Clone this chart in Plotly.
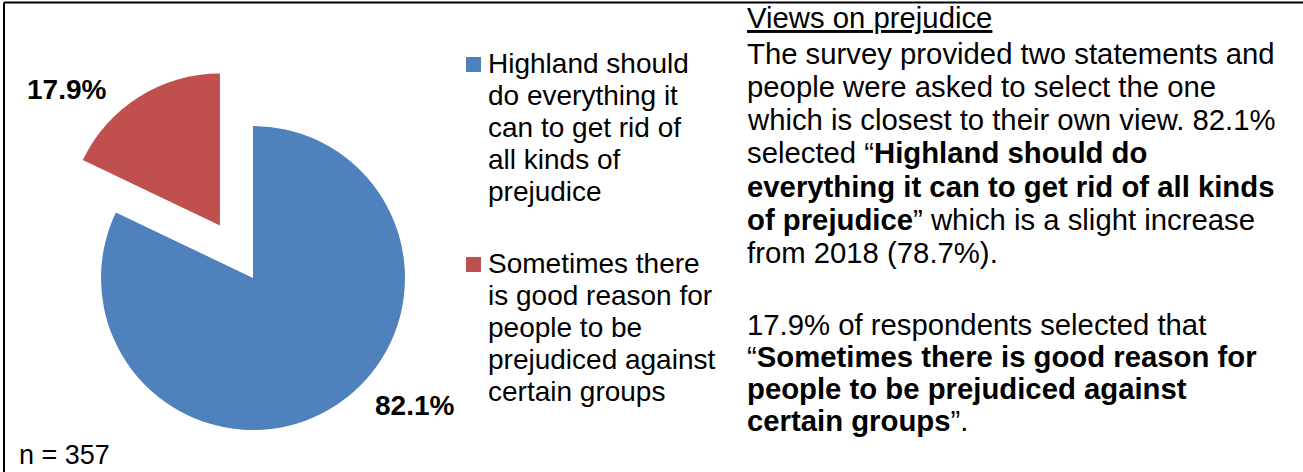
import math
import plotly.graph_objects as go

W, H = 1303, 472
FONT = "Liberation Sans, Arial, sans-serif"
FS_LEGEND = 28
FS_BODY = 29.3

# Survey responses
categories = [
    "Highland should do everything it can to get rid of all kinds of prejudice",
    "Sometimes there is good reason for people to be prejudiced against certain groups",
]
shares = [82.1, 17.9]
colors = ["#4F81BD", "#C0504D"]
legend_lines = [
    ["Highland should", "do everything it", "can to get rid of", "all kinds of", "prejudice"],
    ["Sometimes there", "is good reason for", "people to be", "prejudiced against", "certain groups"],
]
sample_size = 357
share_2018 = 78.7

CLEAR = "rgba(0,0,0,0)"


def px(x):
    return x / W


def py(y):
    return 1 - y / H


def domain(cx, cy, r):
    return dict(x=[px(cx - r), px(cx + r)], y=[py(cy + r), py(cy - r)])


# pie geometry (pixels)
CX, CY, R = 253, 278, 152
PULL = 62  # exploded distance of the second slice
mid = 2 * math.pi * (shares[0] + shares[1] / 2) / sum(shares)
ex_cx = CX + PULL * math.sin(mid)
ex_cy = CY - PULL * math.cos(mid)

fig = go.Figure()
fig.add_trace(go.Pie(
    labels=categories, values=shares, sort=False, direction="clockwise",
    rotation=0, marker=dict(colors=[colors[0], CLEAR], line=dict(width=0)),
    textinfo="none", hoverinfo="label+percent", showlegend=False,
    domain=domain(CX, CY, R),
))
fig.add_trace(go.Pie(
    labels=categories, values=shares, sort=False, direction="clockwise",
    rotation=0, marker=dict(colors=[CLEAR, colors[1]], line=dict(width=0)),
    textinfo="none", hoverinfo="label+percent", showlegend=False,
    domain=domain(ex_cx, ex_cy, R),
))

ann = []
shapes = []


def text(x, baseline, s, size, xanchor="left"):
    ann.append(dict(
        x=px(x), y=py(baseline - 0.3465 * size), xref="paper", yref="paper",
        text=s, showarrow=False, xanchor=xanchor, yanchor="middle",
        font=dict(family=FONT, size=size, color="#000000"), borderpad=0,
    ))


# slice value labels
text(66, 99, f"<b>{shares[1]:.1f}%</b>", FS_LEGEND, xanchor="center")
text(414, 415, f"<b>{shares[0]:.1f}%</b>", FS_LEGEND, xanchor="center")
text(18, 464, f"n = {sample_size}", 27)

# legend
legend_tops = [57, 257]
for i, lines in enumerate(legend_lines):
    t = legend_tops[i]
    shapes.append(dict(type="rect", xref="paper", yref="paper",
                       x0=px(466), x1=px(481), y0=py(t + 15), y1=py(t),
                       fillcolor=colors[i], line=dict(width=0)))
    for k, ln in enumerate(lines):
        text(487, t + 16 + 32 * k, ln, FS_LEGEND)

# commentary
body = [
    (28, "<u>Views on prejudice</u>"),
    (64, "The survey provided two statements and"),
    (97, "people were asked to select the one"),
    (130, f"which is closest to their own view. {shares[0]:.1f}%"),
    (163, "selected \u201c<b>Highland should do</b>"),
    (197, "<b>everything it can to get rid of all kinds</b>"),
    (230, "<b>of prejudice</b>\u201d which is a slight increase"),
    (263, f"from 2018 ({share_2018:.1f}%)."),
    (335, f"{shares[1]:.1f}% of respondents selected that"),
    (367, "\u201c<b>Sometimes there is good reason for</b>"),
    (399, "<b>people to be prejudiced against</b>"),
    (431, "<b>certain groups</b>\u201d."),
]
for b, s in body:
    text(746, b, s, FS_BODY)

# frame
shapes.append(dict(type="line", xref="paper", yref="paper",
                   x0=px(4), x1=px(W), y0=py(2.5), y1=py(2.5),
                   line=dict(color="#000000", width=2)))
shapes.append(dict(type="line", xref="paper", yref="paper",
                   x0=px(4), x1=px(4), y0=py(2.5), y1=py(H),
                   line=dict(color="#000000", width=2)))

fig.update_layout(
    width=W, height=H, margin=dict(l=0, r=0, t=0, b=0),
    paper_bgcolor="#FFFFFF", plot_bgcolor="#FFFFFF",
    annotations=ann, shapes=shapes, showlegend=False,
    font=dict(family=FONT),
)
fig.write_html("out.html")
